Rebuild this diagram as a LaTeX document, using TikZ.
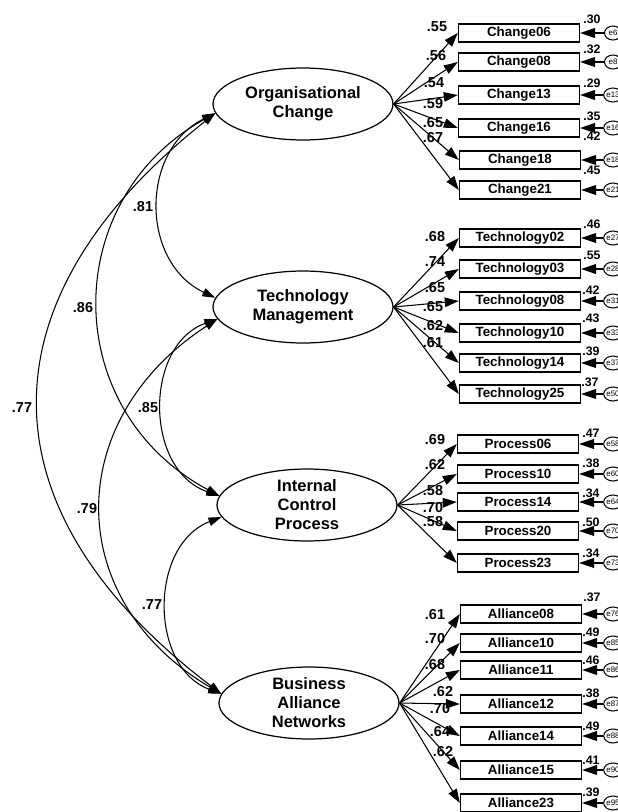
\documentclass[tikz,border=0pt]{standalone}
\usepackage{fontspec}
\setmainfont{Liberation Sans}
\usetikzlibrary{arrows.meta,shapes.geometric}

\tikzset{
  latente/.style={ellipse, draw, line width=0.7pt, minimum width=3.6cm, minimum height=1.44cm,
    inner sep=0pt, align=center, font=\fontsize{9.4}{10.8}\selectfont\bfseries},
  caja/.style={rectangle, draw, line width=0.8pt, minimum width=2.42cm, minimum height=0.36cm,
    inner sep=0pt, font=\fontsize{7.6}{8}\selectfont\bfseries},
  err/.style={ellipse, draw, line width=0.6pt, minimum width=0.34cm, minimum height=0.28cm,
    inner sep=0pt, font=\fontsize{4.5}{5}\selectfont},
  carga/.style={line width=0.6pt, -{Triangle[length=0.28cm,width=0.19cm]}},
  flecha/.style={line width=0.6pt, -{Triangle[length=0.3cm,width=0.2cm]}},
  corr/.style={line width=0.6pt, {Triangle[length=0.26cm,width=0.17cm]}-{Triangle[length=0.26cm,width=0.17cm]}},
  peso/.style={inner sep=0pt, font=\fontsize{8.2}{9}\selectfont\bfseries},
  vari/.style={inner sep=0pt, font=\fontsize{7}{8}\selectfont\bfseries},
}

\begin{document}
\begin{tikzpicture}[x=0.02cm, y=-0.02cm]
  \useasboundingbox (0,0) rectangle (618,812);
  % variables latentes
  \node[latente] (oc)  at (303,104) {Organisational\\Change};
  \node[latente] (tm)  at (303,307) {Technology\\Management};
  \node[latente] (icp) at (307,505) {Internal\\Control\\Process};
  \node[latente] (ban) at (309,703) {Business\\Alliance\\Networks};

  % correlaciones
  \draw[corr] (oc.186) .. controls (140,150) and (140,262) .. (tm.174);
  \draw[corr] (oc.186) .. controls (59,200) and (59,410) .. (icp.174);
  \draw[corr] (oc.186) .. controls (-21,300) and (-21,510) .. (ban.174);
  \draw[corr] (tm.188) .. controls (144,345) and (144,470) .. (icp.174);
  \draw[corr] (tm.188) .. controls (62,420) and (62,600) .. (ban.174);
  \draw[corr] (icp.188) .. controls (149,545) and (149,667) .. (ban.174);
  \node[peso] (r1) at (143,207) {.81};
  \node[peso] (r2) at (83,308) {.86};
  \node[peso] (r3) at (22,408) {.77};
  \node[peso] (r4) at (148,408) {.85};
  \node[peso] (r5) at (87,509) {.79};
  \node[peso] (r6) at (152,605) {.77};

  % cambio organizacional
  \node[caja] (ch06) at (519,33) {Change06};
  \node[caja] (ch08) at (519,62) {Change08};
  \node[caja] (ch13) at (519,95) {Change13};
  \node[caja] (ch16) at (519,128) {Change16};
  \node[caja] (ch18) at (520,160) {Change18};
  \node[caja] (ch21) at (520,190) {Change21};
  \node[err] (e6) at (613,33) {e6};
  \node[err] (e8) at (613,62) {e8};
  \node[err] (e13) at (613,95) {e13};
  \node[err] (e16) at (613,128) {e16};
  \node[err] (e18) at (613,160) {e18};
  \node[err] (e21) at (613,190) {e21};
  \draw[carga] (oc.east) -- (ch06.west);
  \draw[carga] (oc.east) -- (ch08.west);
  \draw[carga] (oc.east) -- (ch13.west);
  \draw[carga] (oc.east) -- (ch16.west);
  \draw[carga] (oc.east) -- (ch18.west);
  \draw[carga] (oc.east) -- (ch21.west);
  \draw[flecha] (e6) -- (ch06);
  \draw[flecha] (e8) -- (ch08);
  \draw[flecha] (e13) -- (ch13);
  \draw[flecha] (e16) -- (ch16);
  \draw[flecha] (e18) -- (ch18);
  \draw[flecha] (e21) -- (ch21);
  \node[peso] (lch06) at (437,27) {.55};
  \node[peso] (lch08) at (436,56) {.56};
  \node[peso] (lch13) at (434,83) {.54};
  \node[peso] (lch16) at (433,104) {.59};
  \node[peso] (lch18) at (433,123) {.65};
  \node[peso] (lch21) at (433,138) {.67};
  \node[vari] (vch06) at (592,19) {.30};
  \node[vari] (vch08) at (592,49) {.32};
  \node[vari] (vch13) at (592,83) {.29};
  \node[vari] (vch16) at (592,116) {.35};
  \node[vari] (vch18) at (592,136) {.42};
  \node[vari] (vch21) at (592,170) {.45};

  % gestion de tecnologia
  \node[caja] (te02) at (520,238) {Technology02};
  \node[caja] (te03) at (520,269) {Technology03};
  \node[caja] (te08) at (520,301) {Technology08};
  \node[caja] (te10) at (520,333) {Technology10};
  \node[caja] (te14) at (520,363) {Technology14};
  \node[caja] (te25) at (520,394) {Technology25};
  \node[err] (e27) at (613,238) {e27};
  \node[err] (e28) at (613,269) {e28};
  \node[err] (e31) at (613,301) {e31};
  \node[err] (e33) at (613,333) {e33};
  \node[err] (e37) at (613,363) {e37};
  \node[err] (e50) at (613,394) {e50};
  \draw[carga] (tm.east) -- (te02.west);
  \draw[carga] (tm.east) -- (te03.west);
  \draw[carga] (tm.east) -- (te08.west);
  \draw[carga] (tm.east) -- (te10.west);
  \draw[carga] (tm.east) -- (te14.west);
  \draw[carga] (tm.east) -- (te25.west);
  \draw[flecha] (e27) -- (te02);
  \draw[flecha] (e28) -- (te03);
  \draw[flecha] (e31) -- (te08);
  \draw[flecha] (e33) -- (te10);
  \draw[flecha] (e37) -- (te14);
  \draw[flecha] (e50) -- (te25);
  \node[peso] (lte02) at (435,237) {.68};
  \node[peso] (lte03) at (435,262) {.74};
  \node[peso] (lte08) at (435,288) {.65};
  \node[peso] (lte10) at (433,307) {.65};
  \node[peso] (lte14) at (433,326) {.62};
  \node[peso] (lte25) at (433,343) {.61};
  \node[vari] (vte02) at (592,224) {.46};
  \node[vari] (vte03) at (592,255) {.55};
  \node[vari] (vte08) at (591,290) {.42};
  \node[vari] (vte10) at (591,318) {.43};
  \node[vari] (vte14) at (591,351) {.39};
  \node[vari] (vte25) at (590,382) {.37};

  % proceso de control interno
  \node[caja] (pr06) at (518,444) {Process06};
  \node[caja] (pr10) at (518,474) {Process10};
  \node[caja] (pr14) at (518,502) {Process14};
  \node[caja] (pr20) at (518,531) {Process20};
  \node[caja] (pr23) at (518,563) {Process23};
  \node[err] (e58) at (613,444) {e58};
  \node[err] (e60) at (613,474) {e60};
  \node[err] (e64) at (613,502) {e64};
  \node[err] (e70) at (613,531) {e70};
  \node[err] (e73) at (613,563) {e73};
  \draw[carga] (icp.east) -- (pr06.west);
  \draw[carga] (icp.east) -- (pr10.west);
  \draw[carga] (icp.east) -- (pr14.west);
  \draw[carga] (icp.east) -- (pr20.west);
  \draw[carga] (icp.east) -- (pr23.west);
  \draw[flecha] (e58) -- (pr06);
  \draw[flecha] (e60) -- (pr10);
  \draw[flecha] (e64) -- (pr14);
  \draw[flecha] (e70) -- (pr20);
  \draw[flecha] (e73) -- (pr23);
  \node[peso] (lpr06) at (435,440) {.69};
  \node[peso] (lpr10) at (435,465) {.62};
  \node[peso] (lpr14) at (433,491) {.58};
  \node[peso] (lpr20) at (433,508) {.70};
  \node[peso] (lpr23) at (433,522) {.58};
  \node[vari] (vpr06) at (591,433) {.47};
  \node[vari] (vpr10) at (591,463) {.38};
  \node[vari] (vpr14) at (591,493) {.34};
  \node[vari] (vpr20) at (591,522) {.50};
  \node[vari] (vpr23) at (591,553) {.34};

  % redes de alianzas
  \node[caja] (al08) at (521,614) {Alliance08};
  \node[caja] (al10) at (521,643) {Alliance10};
  \node[caja] (al11) at (521,670) {Alliance11};
  \node[caja] (al12) at (521,704) {Alliance12};
  \node[caja] (al14) at (521,736) {Alliance14};
  \node[caja] (al15) at (521,770) {Alliance15};
  \node[caja] (al23) at (521,803) {Alliance23};
  \node[err] (e76) at (613,614) {e76};
  \node[err] (e85) at (613,643) {e85};
  \node[err] (e86) at (613,670) {e86};
  \node[err] (e87) at (613,704) {e87};
  \node[err] (e88) at (613,736) {e88};
  \node[err] (e90) at (613,770) {e90};
  \node[err] (e95) at (613,803) {e95};
  \draw[carga] (ban.east) -- (al08.west);
  \draw[carga] (ban.east) -- (al10.west);
  \draw[carga] (ban.east) -- (al11.west);
  \draw[carga] (ban.east) -- (al12.west);
  \draw[carga] (ban.east) -- (al14.west);
  \draw[carga] (ban.east) -- (al15.west);
  \draw[carga] (ban.east) -- (al23.west);
  \draw[flecha] (e76) -- (al08);
  \draw[flecha] (e85) -- (al10);
  \draw[flecha] (e86) -- (al11);
  \draw[flecha] (e87) -- (al12);
  \draw[flecha] (e88) -- (al14);
  \draw[flecha] (e90) -- (al15);
  \draw[flecha] (e95) -- (al23);
  \node[peso] (lal08) at (435,615) {.61};
  \node[peso] (lal10) at (435,639) {.70};
  \node[peso] (lal11) at (435,665) {.68};
  \node[peso] (lal12) at (443,692) {.62};
  \node[peso] (lal14) at (440,709) {.70};
  \node[peso] (lal15) at (440,732) {.64};
  \node[peso] (lal23) at (443,752) {.62};
  \node[vari] (val08) at (592,597) {.37};
  \node[vari] (val10) at (591,632) {.49};
  \node[vari] (val11) at (591,660) {.46};
  \node[vari] (val12) at (591,693) {.38};
  \node[vari] (val14) at (591,726) {.49};
  \node[vari] (val15) at (591,760) {.41};
  \node[vari] (val23) at (591,792) {.39};
\end{tikzpicture}
\end{document}
